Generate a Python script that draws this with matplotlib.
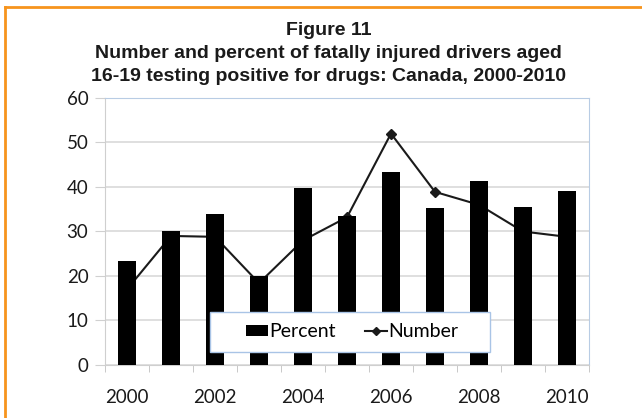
import matplotlib.pyplot as plt
from matplotlib.lines import Line2D
from matplotlib.patches import Patch, Rectangle

years = ["2000", "2001", "2002", "2003", "2004", "2005",
         "2006", "2007", "2008", "2009", "2010"]
percent = [23.3, 30.0, 34.0, 20.0, 39.8, 33.4, 43.4, 35.2, 41.3, 35.5, 39.0]
number = [17, 29, 28.8, 18.4, 28, 33.2, 52, 38.9, 36, 30, 28.8]

fig = plt.figure(figsize=(6.42, 4.18), dpi=100)
ax = fig.add_axes([0.1636, 0.1268, 0.7538, 0.6388])

x = list(range(len(years)))
# bars sit in front of the line, as in the original
ax.bar(x, percent, width=0.4, color="black", zorder=3)
ax.plot(x, number, color="#1a1a1a", lw=1.5, marker="D", ms=5.5, zorder=2)

ax.set_xlim(-0.5, len(years) - 0.5)
ax.set_ylim(0, 60)
ax.set_yticks(range(0, 61, 10))
ax.yaxis.grid(True, color="#d9d9d9", lw=1.2, zorder=0)
ax.set_axisbelow(True)

ax.set_xticks(x[::2])
ax.set_xticklabels(years[::2])
ax.set_xticks([i - 0.5 for i in range(len(years) + 1)], minor=True)
ax.tick_params(axis="x", which="major", length=0, pad=17)
ax.tick_params(axis="x", which="minor", length=5, color="#bfbfbf")
ax.tick_params(axis="y", length=7, color="#d0d0d0", pad=5)
for lab in ax.get_xticklabels() + ax.get_yticklabels():
    lab.set_fontfamily("Lato")
    lab.set_fontsize(13.5)
    lab.set_color("#1a1a1a")

ax.spines["left"].set_color("#cfcfcf")
ax.spines["bottom"].set_color("#cfcfcf")
ax.spines["top"].set_color("#b8cce4")
ax.spines["right"].set_color("#b8cce4")

# legend box
ax.add_patch(Rectangle((0.217, 0.0487), 0.578, 0.1495, transform=ax.transAxes,
                       facecolor="white", edgecolor="#a9c4e6", lw=1, zorder=4))
handles = [Patch(facecolor="black", label="Percent"),
           Line2D([], [], color="#1a1a1a", lw=1.5, marker="D", ms=4.5, label="Number")]
leg = ax.legend(handles=handles, loc="center", bbox_to_anchor=(0.51, 0.1236),
                ncol=2, frameon=False, prop={"family": "Lato", "size": 14},
                handlelength=1.15, handleheight=0.5, handletextpad=0.05,
                columnspacing=1.5)
leg.set_zorder(5)

title_lines = ["Figure 11",
               "Number and percent of fatally injured drivers aged",
               "16-19 testing positive for drugs: Canada, 2000-2010"]
for line, yy in zip(title_lines, [0.927, 0.872, 0.816]):
    fig.text(0.512, yy, line, ha="center", va="center",
             fontfamily="Liberation Sans", fontweight="bold", fontsize=14,
             color="#1a1a1a")

# orange frame
fig.add_artist(Line2D([5 / 642, 1], [1 - 7 / 418, 1 - 7 / 418], color="#f7941d", lw=2))
fig.add_artist(Line2D([5 / 642, 5 / 642], [0, 1 - 7 / 418], color="#f7941d", lw=2))

fig.savefig("out.png", dpi=100)
